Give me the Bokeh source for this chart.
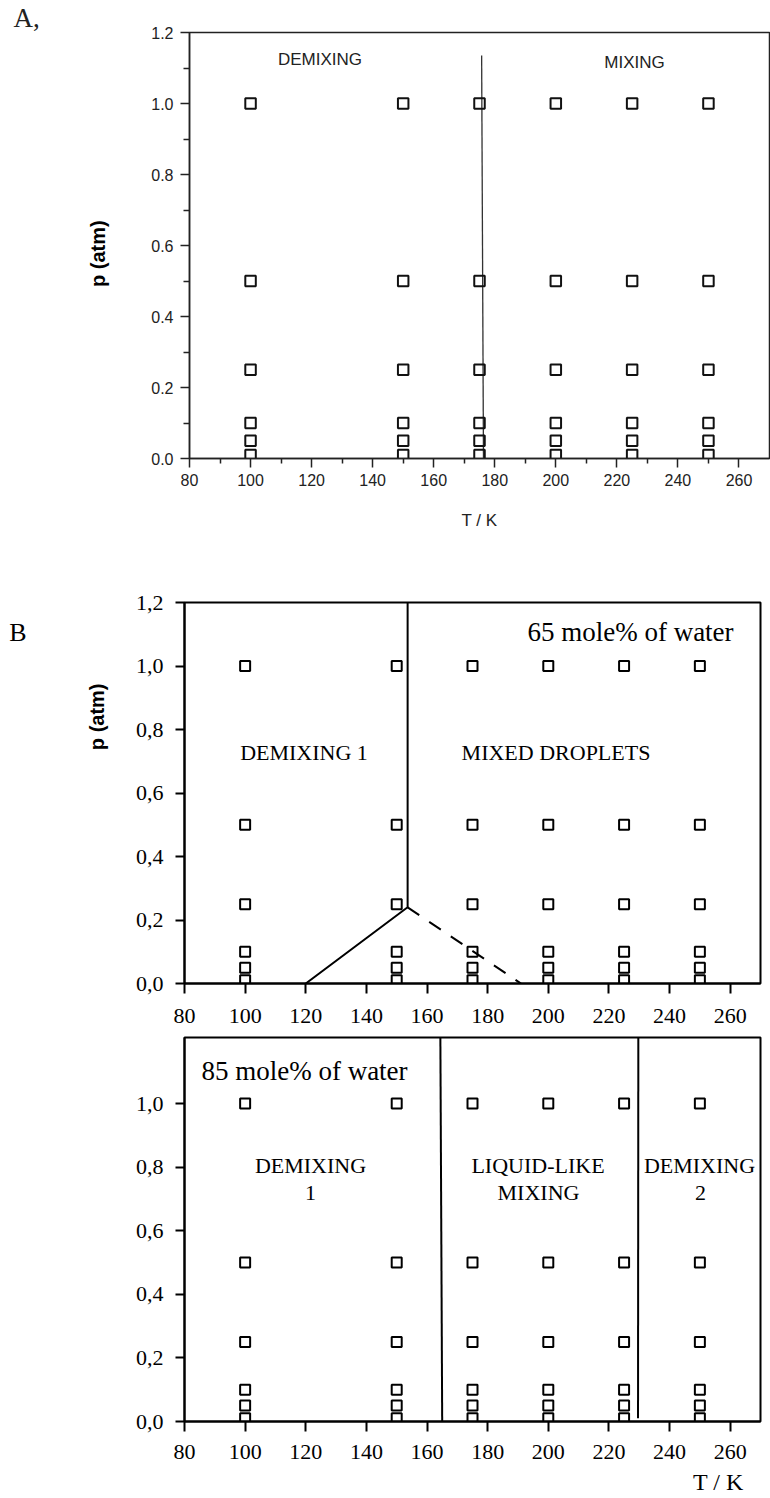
import numpy as np
from math import pi
from bokeh.plotting import figure
from bokeh.layouts import column
from bokeh.models import Range1d, FixedTicker, Label, LinearAxis, Title, Plot
from bokeh.embed import file_html
from bokeh.resources import INLINE

# ---------------- data ----------------
T_points = [100, 150, 175, 200, 225, 250]
p_points = [1.0, 0.5, 0.25, 0.1, 0.05, 0.01]

# panel A boundary (demixing / mixing)
A_boundary_T = [176.3, 175.7]
A_boundary_p = [0.0, 1.135]

# panel B top (65 mole% of water)
B1_solid_T = [120.0, 153.6, 153.6]
B1_solid_p = [0.0, 0.24, 1.2]
B1_dash_T = [153.6, 191.0]
B1_dash_p = [0.24, 0.0]

# panel B bottom (85 mole% of water)
B2_line1_T = [165.0, 164.4]
B2_line1_p = [0.0, 1.208]
B2_line2_T = [229.6, 229.7]
B2_line2_p = [0.01, 1.208]

x_ticks = [80, 100, 120, 140, 160, 180, 200, 220, 240, 260]
x_minor_A = [90, 110, 130, 150, 170, 190, 210, 230, 250]
y_ticks_A = [0.0, 0.2, 0.4, 0.6, 0.8, 1.0, 1.2]
y_labels_A = ["0.0", "0.2", "0.4", "0.6", "0.8", "1.0", "1.2"]
y_minor_A = [0.1, 0.3, 0.5, 0.7, 0.9, 1.1]
y_ticks_B1 = [0.0, 0.2, 0.4, 0.6, 0.8, 1.0, 1.2]
y_labels_B1 = ["0,0", "0,2", "0,4", "0,6", "0,8", "1,0", "1,2"]
y_ticks_B2 = [0.0, 0.2, 0.4, 0.6, 0.8, 1.0]
y_labels_B2 = ["0,0", "0,2", "0,4", "0,6", "0,8", "1,0"]

TT, PP = np.meshgrid(T_points, p_points)
grid_T = TT.ravel().tolist()
grid_p = PP.ravel().tolist()

SANS = "Liberation Sans"
SERIF = "Liberation Serif"

HAS_FRAME_ALIGN = "frame_align" in Plot.properties()


def make_fig(h, left, right, top, bottom, ytop):
    kw = {}
    if HAS_FRAME_ALIGN:
        kw["frame_align"] = False
    f = figure(width=770, height=h, x_range=Range1d(80, 270), y_range=Range1d(0, ytop),
               output_backend="svg", toolbar_location=None,
               min_border_left=left, min_border_right=right,
               min_border_top=top, min_border_bottom=bottom, **kw)
    f.xgrid.visible = False
    f.ygrid.visible = False
    f.background_fill_color = "white"
    f.border_fill_color = "white"
    return f


def style_axis(ax, ticks, minor, labels, font, size, color, lw, tick_out, minor_out, standoff):
    ax.ticker = FixedTicker(ticks=ticks, minor_ticks=minor)
    if labels is not None:
        ax.major_label_overrides = {t: l for t, l in zip(ticks, labels)}
    ax.axis_line_width = lw
    ax.axis_line_color = color
    ax.major_tick_line_width = lw
    ax.major_tick_line_color = color
    ax.minor_tick_line_width = lw
    ax.minor_tick_line_color = color
    ax.major_tick_out = tick_out
    ax.major_tick_in = 0
    ax.minor_tick_out = minor_out
    ax.minor_tick_in = 0
    ax.major_label_text_font = font
    ax.major_label_text_font_size = f"{size}px"
    ax.major_label_text_color = color
    ax.major_label_standoff = standoff


def text_axis(f, side, pos, text, font, size, standoff, style="normal",
              orientation="horizontal", color="black"):
    """A bare axis that only carries one piece of text outside the frame."""
    ax = LinearAxis(ticker=FixedTicker(ticks=[pos], minor_ticks=[]),
                    major_label_overrides={pos: text})
    ax.axis_line_color = None
    ax.major_tick_line_color = None
    ax.minor_tick_line_color = None
    ax.major_tick_out = 0
    ax.major_tick_in = 0
    ax.minor_tick_out = 0
    ax.minor_tick_in = 0
    ax.major_label_orientation = orientation
    ax.major_label_text_font = font
    ax.major_label_text_font_size = f"{size}px"
    ax.major_label_text_font_style = style
    ax.major_label_text_color = color
    ax.major_label_standoff = standoff
    f.add_layout(ax, side)


def lab(f, text, x, y, font, size, style="normal", align="center", baseline="middle",
        angle=0, color="black"):
    f.add_layout(Label(x=x, y=y, x_units="screen", y_units="screen", text=text,
                       text_font=font, text_font_size=f"{size}px", text_font_style=style,
                       text_align=align, text_baseline=baseline, angle=angle,
                       text_color=color))


# ---------------- panel A ----------------
fa = make_fig(560, 189, 1, 32, 102, 1.2)
fa.outline_line_color = "#222222"
fa.outline_line_width = 1.5
style_axis(fa.xaxis[0], x_ticks, x_minor_A, None, SANS, 16, "#222222", 1.5, 9, 5, 6)
style_axis(fa.yaxis[0], y_ticks_A, y_minor_A, y_labels_A, SANS, 16, "#222222", 1.5, 9, 6, 7)
fa.xaxis[0].axis_label = "T / K"
fa.xaxis[0].axis_label_text_font = SANS
fa.xaxis[0].axis_label_text_font_size = "17px"
fa.xaxis[0].axis_label_text_font_style = "normal"
fa.xaxis[0].axis_label_text_color = "#222222"
fa.xaxis[0].axis_label_standoff = 22
text_axis(fa, "left", 0.577, "p (atm)", SANS, 20, 39, style="bold", orientation="vertical")
fa.add_layout(Title(text="A,", align="left", offset=-176, standoff=0,
                    text_font=SERIF, text_font_size="27px", text_font_style="normal",
                    text_color="#222222"), "above")
fa.line(A_boundary_T, A_boundary_p, line_color="#333333", line_width=1.3)
fa.scatter(grid_T, grid_p, marker="square", size=10.5, fill_alpha=0,
           line_color="#111111", line_width=2)
lab(fa, "DEMIXING", 130.5, 399, SANS, 17, color="#222222")
lab(fa, "MIXING", 445, 396, SANS, 17, color="#222222")

# ---------------- panel B top ----------------
fb1 = make_fig(473, 184, 10, 42, 50, 1.2)
fb1.outline_line_color = "black"
fb1.outline_line_width = 2
style_axis(fb1.xaxis[0], x_ticks, [], None, SERIF, 22, "black", 2, 10, 0, 15)
style_axis(fb1.yaxis[0], y_ticks_B1, [], y_labels_B1, SERIF, 22, "black", 2, 9, 0, 12)
text_axis(fb1, "left", 0.84, "p (atm)", SANS, 20, 24, style="bold", orientation="vertical")
text_axis(fb1, "left", 1.105, "B", SERIF, 26, 57)
fb1.line(B1_solid_T, B1_solid_p, line_color="black", line_width=2)
fb1.line(B1_dash_T, B1_dash_p, line_color="black", line_width=2, line_dash="14 12")
fb1.scatter(grid_T, grid_p, marker="square", size=10, fill_alpha=0,
            line_color="black", line_width=2)
lab(fb1, "65 mole% of water", 446, 352, SERIF, 27)
lab(fb1, "DEMIXING 1", 119.5, 230.7, SERIF, 22)
lab(fb1, "MIXED DROPLETS", 371.5, 230.7, SERIF, 22)

# ---------------- panel B bottom ----------------
fb2 = make_fig(465, 184, 10, 4, 77, 1.208)
fb2.outline_line_color = "black"
fb2.outline_line_width = 2
style_axis(fb2.xaxis[0], x_ticks, [], None, SERIF, 22, "black", 2, 10, 0, 13)
style_axis(fb2.yaxis[0], y_ticks_B2, [], y_labels_B2, SERIF, 22, "black", 2, 9, 0, 12)
text_axis(fb2, "below", 256.1, "T / K", SERIF, 24, 7)
fb2.line(B2_line1_T, B2_line1_p, line_color="black", line_width=2)
fb2.line(B2_line2_T, B2_line2_p, line_color="black", line_width=2)
fb2.scatter(grid_T, grid_p, marker="square", size=10, fill_alpha=0,
            line_color="black", line_width=2)
lab(fb2, "85 mole% of water", 120, 351, SERIF, 27)
lab(fb2, "DEMIXING", 126, 256, SERIF, 22)
lab(fb2, "1", 126, 229, SERIF, 22)
lab(fb2, "LIQUID-LIKE", 353.5, 256, SERIF, 22)
lab(fb2, "MIXING", 354, 229, SERIF, 22)
lab(fb2, "DEMIXING", 515, 256, SERIF, 22)
lab(fb2, "2", 516, 229, SERIF, 22)

layout = column(fa, fb1, fb2, spacing=0)
open("out.html", "w").write(file_html(layout, INLINE))
